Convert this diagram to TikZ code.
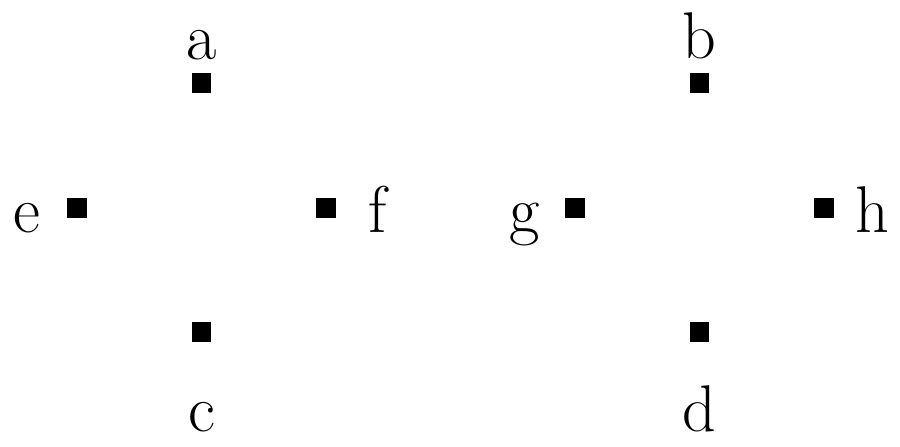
\documentclass[tikz,border=0pt]{standalone}
\usepackage{tikz}

\begin{document}
\begin{tikzpicture}[scale=1.0,
  pt/.style={fill,rectangle,inner sep=0pt,minimum size=0.16cm},
  lbl/.style={anchor=base,inner sep=0pt,font=\fontsize{15.1}{18}\selectfont}]
\useasboundingbox (-0.618,-1.916) rectangle (6.610,1.667);
% left cross
\node[pt] (a) at (1,1) {};
\node[pt] (c) at (1,-1) {};
\node[pt] (e) at (0,0) {};
\node[pt] (f) at (2,0) {};
% right cross
\node[pt] (b) at (5,1) {};
\node[pt] (d) at (5,-1) {};
\node[pt] (g) at (4,0) {};
\node[pt] (h) at (6,0) {};
% labels
\node[lbl] (la) at (1,1.193) {a};
\node[lbl] (lc) at (1,-1.8) {c};
\node[lbl] (le) at (-0.405,-0.2) {e};
\node[lbl] (lf) at (2.414,-0.2) {f};
\node[lbl] (lb) at (5,1.2) {b};
\node[lbl] (ld) at (5,-1.8) {d};
\node[lbl] (lg) at (3.598,-0.2) {g};
\node[lbl] (lh) at (6.39,-0.2) {h};
\end{tikzpicture}
\end{document}
